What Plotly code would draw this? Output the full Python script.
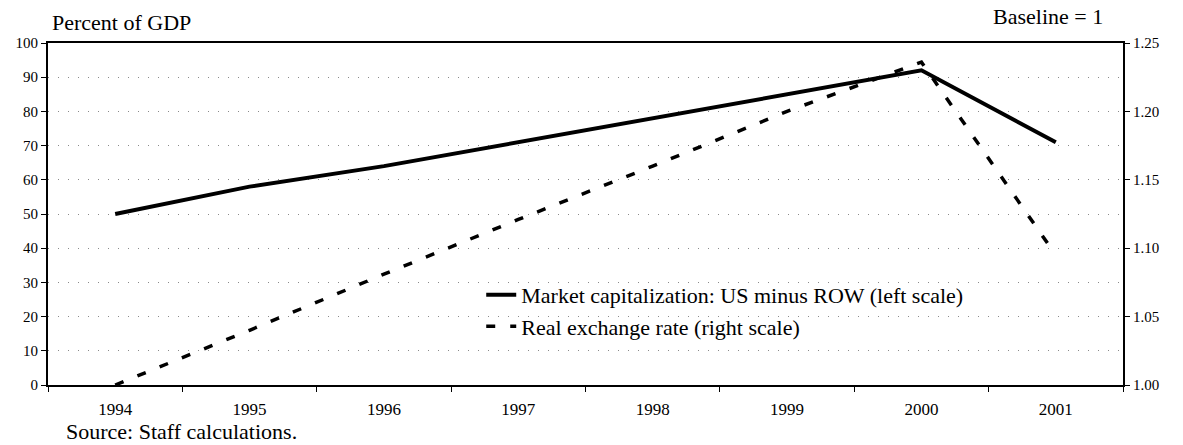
import plotly.graph_objects as go

years = ["1994", "1995", "1996", "1997", "1998", "1999", "2000", "2001"]
market_cap = [50, 58, 64, 71, 78, 85, 92, 71]           # percent of GDP, left scale
real_exchange = [1.00, 1.040, 1.081, 1.121, 1.160, 1.200, 1.236, 1.095]  # baseline = 1, right scale

left_ticks = [0, 10, 20, 30, 40, 50, 60, 70, 80, 90, 100]
right_ticks = [1.00, 1.05, 1.10, 1.15, 1.20, 1.25]
right_tick_text = ["1.00", "1.05", "1.10", "1.15", "1.20", "1.25"]

SERIF = "Liberation Serif, Times New Roman, serif"

fig = go.Figure()
fig.add_trace(go.Scatter(
    x=years, y=market_cap, mode="lines",
    name="Market capitalization: US minus ROW (left scale)",
    line=dict(color="black", width=4),
))
fig.add_trace(go.Scatter(
    x=years, y=real_exchange, mode="lines", yaxis="y2",
    name="Real exchange rate (right scale)",
    line=dict(color="black", width=3.5, dash="9px,15px"),
))

fig.update_layout(
    width=1183, height=445,
    margin=dict(l=48, r=60, t=43, b=60),
    paper_bgcolor="white", plot_bgcolor="white",
    font=dict(family=SERIF, color="black"),
    showlegend=True,
    legend=dict(
        x=0.403, y=0.325, xanchor="left", yanchor="top",
        bgcolor="rgba(0,0,0,0)", font=dict(size=22, family=SERIF),
        tracegroupgap=0,
    ),
    xaxis=dict(
        type="category", range=[-0.5, 7.5], tickson="boundaries",
        showline=True, linecolor="black", linewidth=2, mirror=True,
        ticks="outside", ticklen=5, tickcolor="black",
        tickfont=dict(size=17, family=SERIF), showgrid=False,
        ticklabelstandoff=8,
    ),
    yaxis=dict(
        range=[0, 100], tickvals=left_ticks,
        showline=True, linecolor="black", linewidth=2,
        ticks="outside", ticklen=5, tickcolor="black",
        tickfont=dict(size=15, family=SERIF),
        showgrid=True, gridcolor="#8a8a8a", griddash="1px,9px", gridwidth=1,
        zeroline=False,
    ),
    yaxis2=dict(
        range=[1.00, 1.25], tickvals=right_ticks, ticktext=right_tick_text,
        overlaying="y", side="right",
        showline=True, linecolor="black", linewidth=2,
        ticks="outside", ticklen=5, tickcolor="black",
        tickfont=dict(size=15, family=SERIF),
        showgrid=False, zeroline=False,
    ),
    annotations=[
        dict(text="Percent of GDP", xref="paper", yref="paper", x=0.002, y=1.0,
             xanchor="left", yanchor="bottom", yshift=6, showarrow=False,
             font=dict(size=22, family=SERIF)),
        dict(text="Baseline = 1", xref="paper", yref="paper", x=0.983, y=1.0,
             xanchor="right", yanchor="bottom", yshift=12, showarrow=False,
             font=dict(size=22, family=SERIF)),
        dict(text="Source: Staff calculations.", xref="paper", yref="paper", x=0.015, y=0,
             xanchor="left", yanchor="top", yshift=-32, showarrow=False,
             font=dict(size=22, family=SERIF)),
    ],
)

fig.write_html("out.html", config={"displayModeBar": False},
               post_script="document.body.style.margin='0';")
